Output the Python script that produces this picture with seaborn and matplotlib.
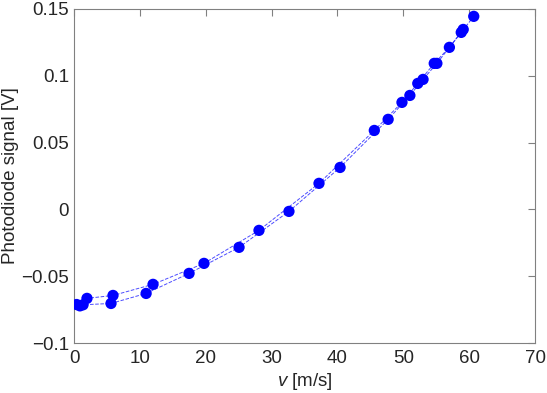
import matplotlib
matplotlib.use("Agg")
import matplotlib.pyplot as plt
import seaborn as sns
import pandas as pd

# Branch A (upper at low speed)
v_a = [0.4, 1.97, 5.92, 12.0, 19.74, 28.09, 37.2, 45.6, 49.8, 52.2, 54.7, 57.0, 59.1]
s_a = [-0.0712, -0.0666, -0.0644, -0.0561, -0.0404, -0.0157, 0.0195, 0.0591, 0.0801, 0.0943, 0.1093, 0.1213, 0.1347]
# Branch B (lower at low speed)
v_b = [0.9, 1.37, 5.62, 10.95, 17.47, 25.06, 32.64, 40.4, 47.7, 51.0, 53.0, 55.1, 58.8, 60.7]
s_b = [-0.0722, -0.0714, -0.0704, -0.0629, -0.0479, -0.0284, -0.0015, 0.0314, 0.0674, 0.0853, 0.0973, 0.1093, 0.1325, 0.1445]

x_ticks = [0, 10, 20, 30, 40, 50, 60, 70]
y_ticks = [-0.1, -0.05, 0, 0.05, 0.1, 0.15]
y_tick_labels = ["\u22120.1", "\u22120.05", "0", "0.05", "0.1", "0.15"]

sns.set_style("white")
plt.rcParams['font.family'] = ['Liberation Sans', 'DejaVu Sans']
plt.rcParams['mathtext.fontset'] = 'custom'
plt.rcParams['mathtext.it'] = 'Liberation Sans:italic'
plt.rcParams['mathtext.rm'] = 'Liberation Sans'

df_a = pd.DataFrame({"v": v_a, "s": s_a})
df_b = pd.DataFrame({"v": v_b, "s": s_b})

fig = plt.figure(figsize=(5.47, 3.93), dpi=100)
ax = fig.add_axes([74 / 547, 1 - 343 / 393, (535 - 74) / 547, (343 - 9) / 393])

for df in (df_a, df_b):
    sns.lineplot(data=df, x="v", y="s", ax=ax, color="#0000ff", linestyle="--",
                 linewidth=0.7, alpha=0.7, estimator=None, sort=True, legend=False)
    sns.scatterplot(data=df, x="v", y="s", ax=ax, color="#0000ff", s=66,
                    edgecolor="none", linewidth=0, legend=False, zorder=3)

ax.set_xlim(0, 70)
ax.set_ylim(-0.1, 0.15)
ax.set_xticks(x_ticks)
ax.set_yticks(y_ticks)
ax.set_yticklabels(y_tick_labels)
ax.set_xticklabels([str(t) for t in x_ticks])

text_color = "#262626"
ax.tick_params(direction="in", length=5, width=0.8, colors="#808080",
               labelcolor=text_color, labelsize=13.5, top=True, right=True)
ax.tick_params(axis="x", pad=5)
for sp in ax.spines.values():
    sp.set_visible(True)
    sp.set_color("#808080")
    sp.set_linewidth(0.8)

ax.set_xlabel(r"$\mathit{v}$ [m/s]", fontsize=13.5, color=text_color, labelpad=3)
ax.set_ylabel("Photodiode signal [V]", fontsize=13.5, color=text_color, labelpad=2)

fig.savefig("out.png", dpi=100)
